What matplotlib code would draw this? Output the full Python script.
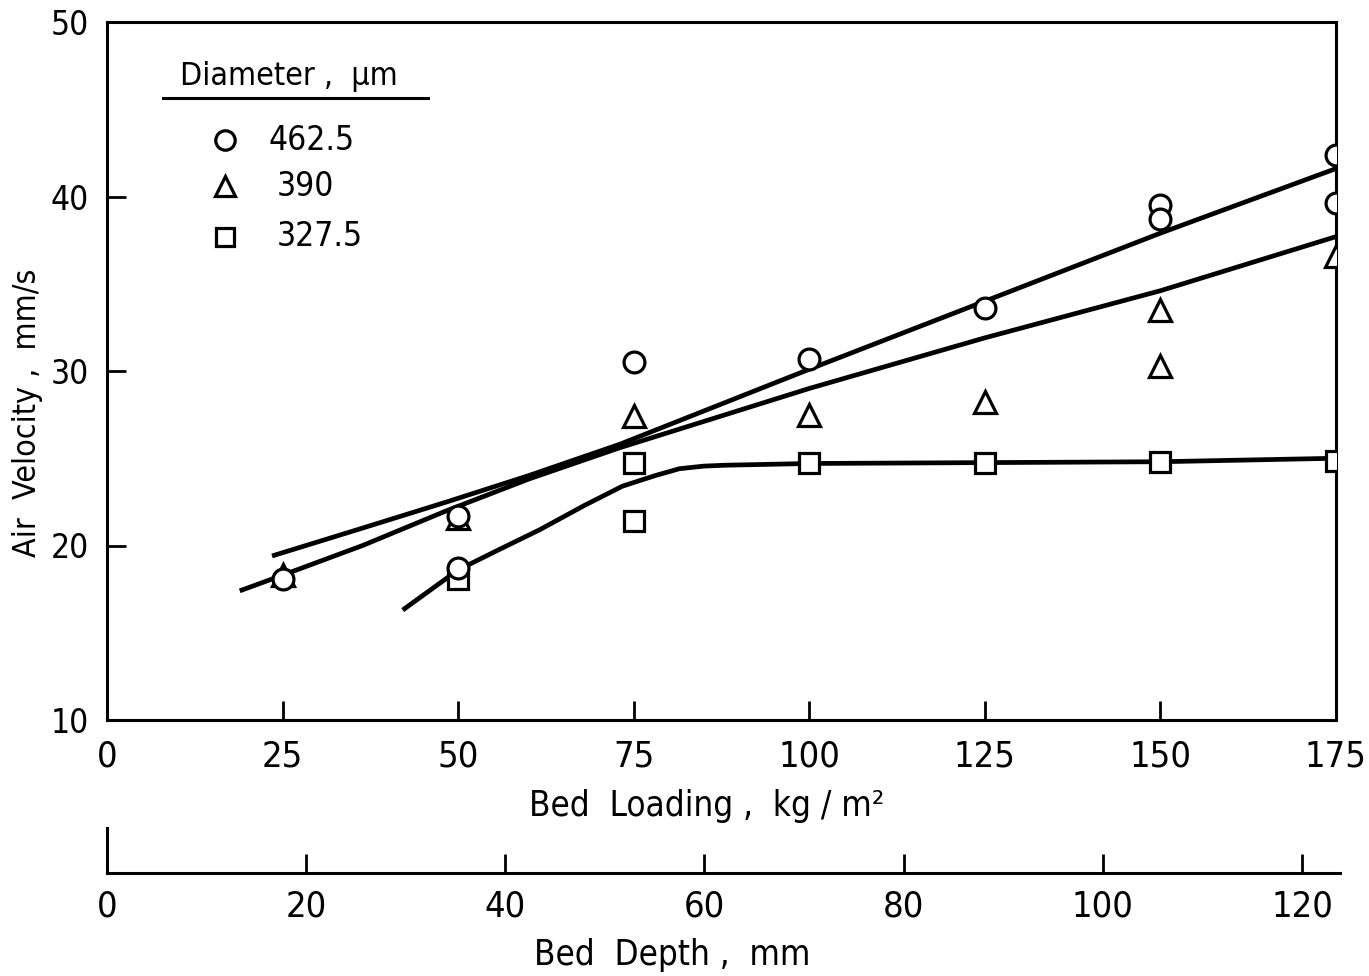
import matplotlib
matplotlib.use('Agg')
import matplotlib.pyplot as plt
from matplotlib.lines import Line2D

plt.rcParams['font.family'] = ['DejaVu Sans']
plt.rcParams['font.stretch'] = 'condensed'

# ---------------- data ----------------
# Diameter 462.5 um (circles)
circle_x = [25, 50, 50, 75, 100, 125, 150, 150, 175, 175]
circle_y = [18.1, 21.7, 18.7, 30.5, 30.7, 33.6, 39.5, 38.7, 42.4, 39.6]
# Diameter 390 um (triangles)
tri_x = [25, 50, 75, 100, 125, 150, 150, 175]
tri_y = [18.3, 21.6, 27.4, 27.5, 28.2, 33.5, 30.3, 36.6]
# Diameter 327.5 um (squares)
sq_x = [50, 75, 75, 100, 125, 150, 175]
sq_y = [18.1, 24.7, 21.4, 24.7, 24.7, 24.8, 24.85]

# fitted curves
fit1_x = [23.5, 36.4, 48.4, 60, 73, 100, 125, 150, 175]
fit1_y = [19.4, 21.0, 22.5, 24.0, 25.8, 30.1, 34.0, 37.9, 41.6]
fit2_x = [18.9, 25, 36.4, 48.4, 60, 73, 100, 125, 150, 175]
fit2_y = [17.4, 18.3, 20.0, 22.0, 23.8, 25.6, 29.0, 31.9, 34.6, 37.7]
fit3_x = [42.1, 50, 56, 61.6, 68, 73.4, 78, 81.5, 85, 88, 100, 150, 175]
fit3_y = [16.3, 18.6, 19.8, 20.9, 22.3, 23.4, 24.0, 24.4, 24.55, 24.6, 24.7, 24.8, 25.0]

legend_labels = ['462.5', '390', '327.5']
legend_title = 'Diameter ,  \u03bcm'

x_ticks = [0, 25, 50, 75, 100, 125, 150, 175]
y_ticks = [10, 20, 30, 40, 50]
depth_ticks = [0, 20, 40, 60, 80, 100, 120]

# ---------------- figure ----------------
W, H = 1369, 976
fig = plt.figure(figsize=(W / 100, H / 100), dpi=100)

def fx(px):
    return px / W

def fy(py):
    return 1 - py / H

ax = fig.add_axes([fx(107), fy(720), (1336 - 107) / W, (720 - 22) / H])
ax.set_xlim(0, 175)
ax.set_ylim(10, 50)
for s in ax.spines.values():
    s.set_linewidth(2.2)
ax.set_xticks(x_ticks)
ax.set_yticks(y_ticks)
ax.tick_params(axis='x', direction='in', length=14, width=2, pad=14, labelsize=26)
ax.tick_params(axis='y', direction='in', length=14, width=2, pad=13, labelsize=24)

mk = dict(linestyle='none', markerfacecolor='white', markeredgecolor='black',
          markeredgewidth=2.3, zorder=3)
lw = 3.4
for xs, ys in ((fit1_x, fit1_y), (fit2_x, fit2_y), (fit3_x, fit3_y)):
    ax.plot(xs, ys, color='black', lw=lw, solid_capstyle='butt',
            solid_joinstyle='round', zorder=2)
ax.plot(sq_x, sq_y, marker='s', markersize=14, **mk)
ax.plot(tri_x, tri_y, marker='^', markersize=16, **mk)
ax.plot(circle_x, circle_y, marker='o', markersize=15, **mk)

# secondary depth scale
ax2 = fig.add_axes([fx(107), fy(873), (1340 - 107) / W, 45 / H])
ax2.set_xlim(0, (1340 - 107) / 9.958)
ax2.set_ylim(0, 1)
ax2.patch.set_visible(False)
ax2.spines['top'].set_visible(False)
ax2.spines['right'].set_visible(False)
ax2.spines['left'].set_linewidth(2.2)
ax2.spines['bottom'].set_linewidth(2.2)
ax2.set_yticks([])
ax2.set_xticks(depth_ticks)
ax2.tick_params(axis='x', direction='in', length=14, width=2, pad=12, labelsize=26)

# axis labels
fig.text(fx(707), fy(806), 'Bed  Loading ,  kg / m\u00b2', ha='center', va='center', fontsize=25)
fig.text(fx(672), fy(955), 'Bed  Depth ,  mm', ha='center', va='center', fontsize=25)
fig.text(fx(28), fy(413), 'Air  Velocity ,  mm/s', ha='center', va='center',
         rotation=90, fontsize=23)

# legend
fig.text(fx(180), fy(76), legend_title, ha='left', va='center', fontsize=23)
fig.add_artist(Line2D([fx(163), fx(428)], [fy(98), fy(98)], color='black', lw=2.2,
                      transform=fig.transFigure))
leg_markers = ['o', '^', 's']
leg_sizes = [14, 14, 13]
leg_y = [140, 186, 237]
leg_tx = [268, 277, 277]
for m, s, yy, tx, lab in zip(leg_markers, leg_sizes, leg_y, leg_tx, legend_labels):
    fig.add_artist(Line2D([fx(225)], [fy(yy)], marker=m, markersize=s,
                          markerfacecolor='white', markeredgecolor='black',
                          markeredgewidth=2.3, transform=fig.transFigure))
    fig.text(fx(tx), fy(yy), lab, ha='left', va='center', fontsize=24)

fig.savefig('out.png', dpi=100)
